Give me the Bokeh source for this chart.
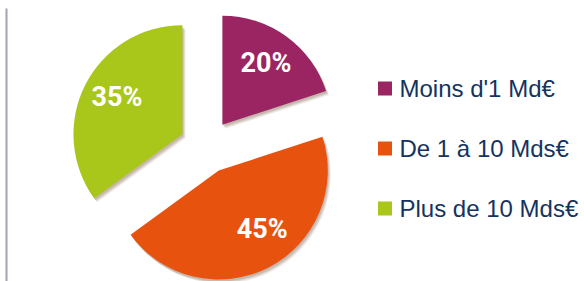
import numpy as np
from bokeh.plotting import figure
from bokeh.models import Range1d, ColumnDataSource
from bokeh.core.properties import value
from bokeh.embed import file_html
from bokeh.resources import INLINE

categories = ["Moins d'1 Md\u20ac", "De 1 \u00e0 10 Mds\u20ac", "Plus de 10 Mds\u20ac"]
shares = [20, 45, 35]
pct_labels = ["20%", "45%", "35%"]
colors = ["#9b2462", "#e8520f", "#a9c61a"]

W, H = 584, 281
p = figure(width=W, height=H, output_backend="svg", toolbar_location=None,
           x_range=Range1d(0, W), y_range=Range1d(0, H),
           min_border=0, outline_line_color=None, background_fill_color="white")
p.axis.visible = False
p.grid.visible = False

# pie layout (page px; y converted as H - y_page)
cx, cy = 206, H - 146
r = 109
explode = 27
label_shift_deg = [0, -9, 1]   # layout tweak of label direction

vals = np.array(shares, dtype=float)
frac = vals / vals.sum()
cum = np.concatenate([[0], np.cumsum(frac)])
theta1 = cum[:-1] * 2 * np.pi          # clockwise from top
theta2 = cum[1:] * 2 * np.pi
mid = (theta1 + theta2) / 2
ax = cx + explode * np.sin(mid)
ay = cy + explode * np.cos(mid)
start = np.pi / 2 - theta2
end = np.pi / 2 - theta1

src = ColumnDataSource(dict(x=ax, y=ay, start=start, end=end, color=colors))
# soft shadow
for off, alpha in [((3, -4), 0.12), ((2, -3), 0.18), ((1, -2), 0.2)]:
    sh = ColumnDataSource(dict(x=ax + off[0], y=ay + off[1], start=start, end=end))
    p.wedge(x="x", y="y", radius=r, start_angle="start", end_angle="end",
            source=sh, fill_color="#7a5a40", fill_alpha=alpha, line_color=None)
p.wedge(x="x", y="y", radius=r, start_angle="start", end_angle="end",
        source=src, fill_color="color", line_color=None)

lr = 0.68 * r
la = mid + np.radians(label_shift_deg)
lx = ax + lr * np.sin(la)
ly = ay + lr * np.cos(la) + 2
p.text(x=lx, y=ly, text=pct_labels, text_color="white",
       text_font=value("Roboto"), text_font_style="bold",
       text_font_size="27px", text_align="center", text_baseline="middle")

# legend
n = len(categories)
idx = np.arange(n)
ly0 = H - 88
lys = ly0 - 60 * idx
p.scatter(x=[384.5] * n, y=lys, marker="square", size=14, fill_color=colors,
          line_color=None)
p.text(x=[399] * n, y=lys, text=categories, text_color="#15335f",
       text_font=value("Liberation Sans"), text_font_size="24px",
       text_align="left", text_baseline="middle")

# left border line
p.segment(x0=[6], y0=[0], x1=[6], y1=[H - 8], line_color="#a0a4b0", line_width=2)

open("out.html", "w").write(file_html(p, INLINE))
